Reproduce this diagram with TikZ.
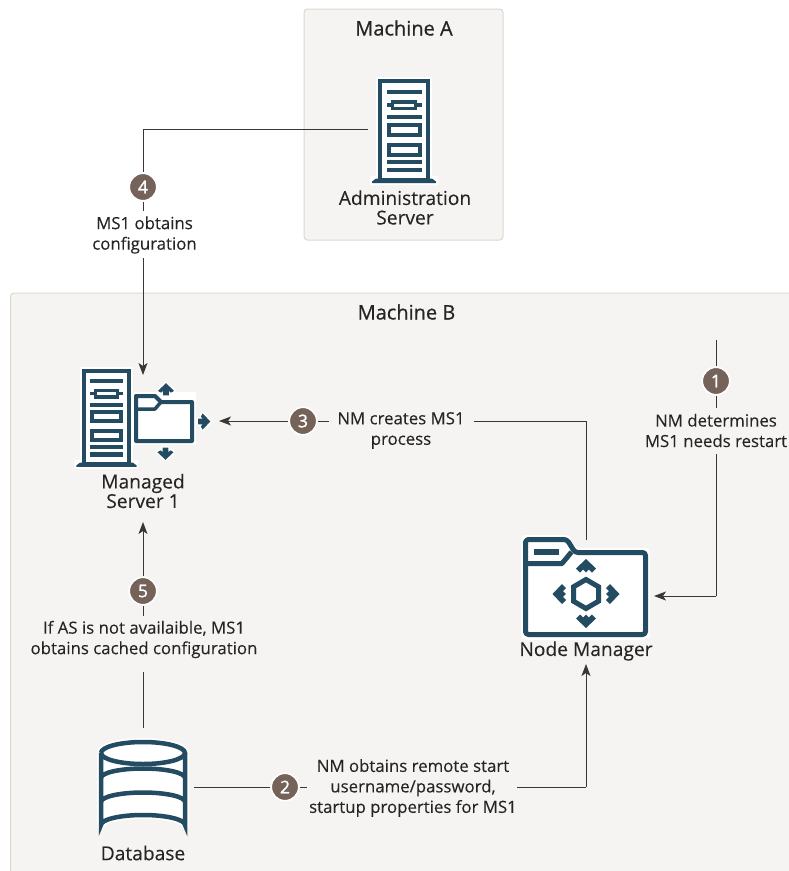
\documentclass[tikz,border=0pt]{standalone}
\usepackage{fontspec}
\setmainfont[FakeBold=0.2,AutoFakeBold=false]{Open Sans}
\newfontfamily\plainf[FakeBold=0.15]{Open Sans}
\newfontfamily\semib[FakeBold=0.7]{Open Sans}
\newfontfamily\digitf[FakeBold=1.4]{Open Sans}
\usetikzlibrary{arrows.meta}
\definecolor{panelfill}{HTML}{F5F4F2}
\definecolor{paneledge}{HTML}{DDD8CE}
\definecolor{icon}{HTML}{234C62}
\definecolor{badgefill}{HTML}{75635A}
\definecolor{linec}{HTML}{3A3634}
\definecolor{textc}{HTML}{262524}
\tikzset{
  panel/.style={fill=panelfill,draw=paneledge,line width=1pt,rounded corners=3.5pt},
  heading/.style={font=\semib\fontsize{20}{22}\selectfont,text=textc,inner sep=0pt},
  iconlabel/.style={font=\plainf\fontsize{19.2}{19.5}\selectfont,text=textc,align=center,inner sep=0pt},
  flowlabel/.style={font=\plainf\fontsize{16.8}{20.5}\selectfont,text=textc,align=center,inner sep=0pt},
  badge/.style={circle,fill=badgefill,draw=white,line width=1.6pt,minimum size=27.5pt,inner sep=0pt,
    text=white,font=\digitf\fontsize{17.5}{17.5}\selectfont},
  spot/.style={inner sep=0pt,outer sep=0pt,draw=none},
  conn/.style={draw=linec,line width=1pt},
  arr/.style={conn,-{Stealth[length=12pt,width=9pt,inset=3pt]}},
  iconfill/.style={fill=icon,draw=none},
}
% server icon: (#1,#2) = top left of the cabinet, #3 = scale
\newcommand{\servericon}[3]{%
  \begin{scope}[shift={(#1,#2)},scale=#3]
    \fill[white] (-2,-2) rectangle (54,100) (-8,97) rectangle (60,106);
    \draw[icon,line width=4.5pt] (2.2,2.2) rectangle (49.8,101);
    \fill[iconfill] (-6,104) -- (-6,102.5) -- (-2,99.5) -- (54,99.5) -- (58,102.5) -- (58,104) -- cycle;
    \fill[iconfill] (8.7,11) rectangle (43.7,15.3);
    \fill[iconfill] (8.7,24) rectangle (43.7,28);
    \fill[white] (14,22.5) rectangle (38,29.5);
    \draw[icon,line width=3.5pt] (14.5,22.8) rectangle (37.5,29.7);
    \fill[iconfill] (8.7,36) rectangle (43.7,40);
    \draw[icon,line width=4pt] (10.7,45.7) rectangle (41.7,55.7);
    \draw[icon,line width=4pt] (10.7,66) rectangle (41.7,75.7);
    \fill[iconfill] (8.7,81) rectangle (43.7,85.3);
    \fill[iconfill] (8.7,88.7) rectangle (43.7,93.3);
  \end{scope}}
% direction glyph: centre (#1,#2), rotation #3 (clockwise from up), scale #4
\newcommand{\dirarrow}[4]{%
  \begin{scope}[shift={(#1,#2)},rotate=#3,scale=#4]
    \path[draw=white,line width=3pt,line join=round]
      (0,-7) -- (9,1.5) -- (5.5,3.5) -- (3.2,1.5) -- (3.2,6.5) -- (-3.2,6.5) -- (-3.2,1.5) -- (-5.5,3.5) -- (-9,1.5) -- cycle;
    \path[fill=icon]
      (0,-7) -- (9,1.5) -- (5.5,3.5) -- (3.2,1.5) -- (3.2,6.5) -- (-3.2,6.5) -- (-3.2,1.5) -- (-5.5,3.5) -- (-9,1.5) -- cycle;
  \end{scope}}
% broader glyph of the node-manager folder
\newcommand{\nmarrow}[3]{%
  \begin{scope}[shift={(#1,#2)},rotate=#3]
    \path[fill=icon]
      (0,-7) -- (10,2.5) -- (6,6.5) -- (2.8,3.5) -- (0,6.5) -- (-2.8,3.5) -- (-6,6.5) -- (-10,2.5) -- cycle;
  \end{scope}}
\begin{document}
\begin{tikzpicture}[x=1pt,y=-1pt]
\useasboundingbox (0,0) rectangle (789,871);
\fill[white] (0,0) rectangle (789,871);
% panels
\draw[panel] (304,9) rectangle (503,240);
\fill[panelfill] (11,293.5) rectangle (789,871);
\draw[paneledge,line width=1pt,rounded corners=3.5pt] (800,293) -- (10.5,293) -- (10.5,890);
\node[heading] (machineA) at (404,28) {Machine A};
\node[heading] (machineB) at (406.5,312) {Machine B};
% icons
\servericon{378}{79}{1}
\servericon{82}{369}{0.94}
% managed-server folder
\fill[white] (132,392) rectangle (196,445);
\draw[icon,line width=4pt,line join=round] (136,396) -- (155,396) -- (161,402) -- (192,402) -- (192,441) -- (136,441) -- cycle;
\draw[icon,line width=3.5pt,line join=round] (136,409) -- (155,409) -- (161,402);
\dirarrow{166}{389.5}{0}{0.9}
\dirarrow{204}{421.5}{-90}{0.9}
\dirarrow{165.5}{453.5}{180}{0.9}
% node-manager folder
\fill[white,rounded corners=4pt] (521,535) -- (569,535) -- (575,548) -- (650,548) -- (650,640) -- (521,640) -- cycle;
\draw[icon,line width=5pt,line join=round,rounded corners=3pt] (525.5,539.5) -- (567,539.5) -- (575,552.5) -- (645.5,552.5) -- (645.5,634.5) -- (525.5,634.5) -- cycle;
\draw[icon,line width=5pt,line join=round] (525.5,563.5) -- (562,563.5) -- (571.5,552);
\fill[iconfill] (534,549) rectangle (559,555);
\draw[icon,line width=5pt,line join=miter] (586,579.5) -- (598.5,586.8) -- (598.5,601.2) -- (586,608.5) -- (573.5,601.2) -- (573.5,586.8) -- cycle;
\nmarrow{586}{566}{0}
\nmarrow{612.5}{594}{-90}
\nmarrow{586}{621}{180}
\nmarrow{559.5}{594}{90}
% database
\draw[white,line width=8pt,line join=round] (101,753) -- (101,825) arc[start angle=180,end angle=360,x radius=42,y radius=10] -- (185,753) arc[start angle=0,end angle=-180,x radius=42,y radius=11];
\fill[white] (101,753) -- (101,825) arc[start angle=180,end angle=360,x radius=42,y radius=10] -- (185,753) arc[start angle=0,end angle=-180,x radius=42,y radius=11];
\draw[icon,line width=4.5pt] (101,753) arc[start angle=180,end angle=540,x radius=42,y radius=11];
\draw[icon,line width=4.5pt] (101,753) -- (101,825) arc[start angle=180,end angle=360,x radius=42,y radius=10] -- (185,753);
\draw[icon,line width=4.5pt] (101,778) arc[start angle=180,end angle=360,x radius=42,y radius=9.5];
\draw[icon,line width=4.5pt] (101,802) arc[start angle=180,end angle=360,x radius=42,y radius=9.5];
% icon anchors
\coordinate (adminWest) at (368,129);
\coordinate (managedTop) at (143,375);
\coordinate (managedRight) at (219,421);
\coordinate (managedBottom) at (143,522);
\coordinate (nmTop) at (586,540);
\coordinate (nmRight) at (654,596);
\coordinate (nmBottom) at (586,664);
\coordinate (dbRight) at (194,787);
\coordinate (dbTop) at (143,728);
% free ends and corners
\coordinate (startOne) at (716,340);
\coordinate (cornerFour) at (143,129);
\coordinate (cornerOne) at (716,596);
\coordinate (cornerThree) at (586,421);
\coordinate (cornerTwo) at (586,787);
\coordinate (stubFour) at (143,211);
\coordinate (resumeFour) at (143,258);
\coordinate (stubOne) at (716,408);
\coordinate (resumeOne) at (716,454);
\coordinate (stubFive) at (143,616);
\coordinate (resumeFive) at (143,672);
\coordinate (stubThree) at (329,421);
\coordinate (resumeThree) at (474,421);
\coordinate (stubTwo) at (307,787);
\coordinate (resumeTwo) at (517,787);
% icon labels
\node[iconlabel] (adminText) at (405,207.5) {Administration\\Server};
\node[iconlabel] (managedText) at (143,491) {Managed\\Server 1};
\node[iconlabel] (nmText) at (586,651) {Node Manager};
\node[iconlabel] (dbText) at (143,853) {Database};
% badges and flow labels
\node[badge] (b4) at (143,187) {4};
\node[badge] (b3) at (303,421) {3};
\node[badge] (b1) at (716,381) {1};
\node[badge] (b5) at (143,591) {5};
\node[badge] (b2) at (285,787) {2};
\node[flowlabel] (l4) at (144.5,235) {MS1 obtains\\configuration};
\node[flowlabel] (l3) at (401,430.5) {NM creates MS1\\process};
\node[flowlabel] (l1) at (716,430.5) {NM determines\\MS1 needs restart};
\node[flowlabel] (l5) at (144,639.5) {If AS is not availaible, MS1\\obtains cached configuration};
\node[flowlabel] (l2) at (413,788) {NM obtains remote start\\username/password,\\startup properties for MS1};
% connectors
\draw[conn] (adminWest) -- (cornerFour) -- (b4);
\draw[conn] (b4) -- (stubFour);
\draw[arr] (resumeFour) -- (managedTop);
\draw[conn] (startOne) -- (b1);
\draw[conn] (b1) -- (stubOne);
\draw[conn] (resumeOne) -- (cornerOne);
\draw[arr] (cornerOne) -- (nmRight);
\draw[conn] (nmTop) -- (cornerThree) -- (resumeThree);
\draw[conn] (stubThree) -- (b3);
\draw[arr] (b3) -- (managedRight);
\draw[conn] (dbRight) -- (b2);
\draw[conn] (b2) -- (stubTwo);
\draw[conn] (resumeTwo) -- (cornerTwo);
\draw[arr] (cornerTwo) -- (nmBottom);
\draw[conn] (dbTop) -- (resumeFive);
\draw[conn] (stubFive) -- (b5);
\draw[arr] (b5) -- (managedBottom);
\end{tikzpicture}
\end{document}
